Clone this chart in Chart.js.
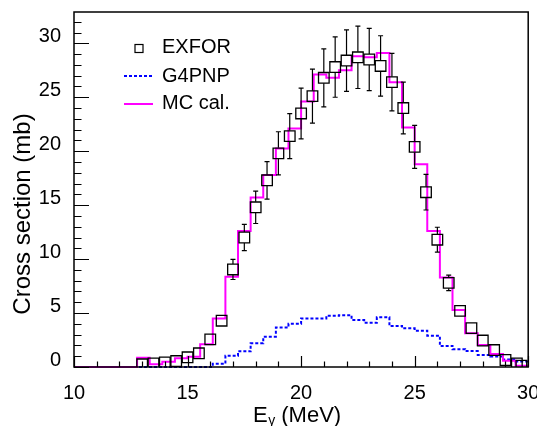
<!DOCTYPE html>
<html>
<head>
<meta charset="utf-8">
<script src="https://cdn.jsdelivr.net/npm/chart.js@4.4.0/dist/chart.umd.min.js"></script>
<style>
  html, body { margin: 0; padding: 0; background: #fff; }
</style>
</head>
<body>
<canvas id="chart" width="537" height="426"></canvas>
<script>
// histogram binning (MC cal. and G4PNP share it)
const binLow = 10;
const binHigh = 30;
const nBins = 36;

// MC cal. bin contents (mb)
const mcCal = [0, 0, 0, 0, 0, 0.86, 0.25, 0.49, 0.8, 0.95,
  2.1, 4.5, 8.36, 12.6, 15.7, 17.8, 20.25, 22.1, 24.6, 27.1,
  26.8, 27.5, 28.8, 28.7, 29.1, 26.4, 22.2, 18.8, 12.6, 8.3,
  5.28, 3.12, 2.04, 1.2, 0.58, 0.12];

// G4PNP bin contents (mb)
const g4pnp = [0, 0, 0, 0, 0, 0, 0, 0, 0, 0,
  0, 0.3, 1.05, 1.45, 2.2, 2.8, 3.65, 4.0, 4.5, 4.5,
  4.75, 4.8, 4.35, 4.1, 4.6, 3.8, 3.58, 3.36, 2.9, 1.95,
  1.65, 1.48, 1.12, 0.98, 0.7, 0.52];

// EXFOR points
const exforE = [13.0, 13.5, 14.0, 14.5, 15.0, 15.5, 16.0, 16.5, 17.0, 17.5,
  18.0, 18.5, 19.0, 19.5, 20.0, 20.5, 21.0, 21.5, 22.0, 22.5,
  23.0, 23.5, 24.0, 24.5, 25.0, 25.5, 26.0, 26.5, 27.0, 27.5,
  28.0, 28.5, 29.0, 29.5, 29.7];
const exforXs = [0.25, 0.34, 0.43, 0.55, 0.9, 1.27, 2.56, 4.29, 9.04, 12.0,
  14.8, 17.3, 19.8, 21.4, 23.5, 25.1, 26.8, 27.8, 28.4, 28.7,
  28.5, 27.9, 26.4, 24.0, 20.4, 16.2, 11.8, 7.8, 5.2, 3.6,
  2.45, 1.57, 0.65, 0.34, 0.12];
const exforErr = [0.03, 0.04, 0.05, 0.06, 0.1, 0.13, 0.25, 0.42, 0.93, 1.22,
  1.5, 1.74, 2.0, 2.08, 2.35, 2.5, 2.69, 2.8, 2.85, 2.89,
  2.89, 2.8, 2.66, 2.4, 2.0, 1.65, 1.15, 0.72, 0.5, 0.35,
  0.25, 0.15, 0.07, 0.04, 0.02];

const xTicks = [10, 15, 20, 25, 30];
const yTicks = [0, 5, 10, 15, 20, 25, 30];
const yMax = 32.9;

const FONT = '"Liberation Sans", Arial, Helvetica, sans-serif';

// step histogram -> points on the bin edges
function histPoints(values) {
  const w = (binHigh - binLow) / nBins;
  const pts = [];
  for (let i = 0; i <= nBins; i++) {
    pts.push({ x: binLow + i * w, y: values[Math.min(i, nBins - 1)] });
  }
  return pts;
}

// error bars drawn outside the open square, with small caps
const errorBars = {
  id: 'errorBars',
  afterDatasetsDraw(chart) {
    const { ctx, scales: { x, y } } = chart;
    const half = 5.5, cap = 2.5;
    ctx.save();
    ctx.strokeStyle = '#000';
    ctx.lineWidth = 1.2;
    exforE.forEach((e, i) => {
      const px = x.getPixelForValue(e);
      const py = y.getPixelForValue(exforXs[i]);
      const hi = y.getPixelForValue(exforXs[i] + exforErr[i]);
      const lo = y.getPixelForValue(exforXs[i] - exforErr[i]);
      ctx.beginPath();
      if (py - hi > half) {
        ctx.moveTo(px, py - half); ctx.lineTo(px, hi);
        ctx.moveTo(px - cap, hi); ctx.lineTo(px + cap, hi);
      }
      if (lo - py > half) {
        ctx.moveTo(px, py + half); ctx.lineTo(px, lo);
        ctx.moveTo(px - cap, lo); ctx.lineTo(px + cap, lo);
      }
      ctx.stroke();
    });
    ctx.restore();
  }
};

// ROOT-like frame, inner ticks, axis titles and legend
const frame = {
  id: 'frame',
  afterDraw(chart) {
    const { ctx, chartArea: a, scales: { x, y } } = chart;
    ctx.save();
    ctx.strokeStyle = '#000';
    ctx.lineWidth = 1.5;
    ctx.strokeRect(a.left, a.top, a.right - a.left, a.bottom - a.top);

    ctx.lineWidth = 1.2;
    ctx.beginPath();
    for (let v = 0; v <= Math.floor(yMax); v++) {
      const py = Math.round(y.getPixelForValue(v)) + 0.5;
      const len = v % 5 === 0 ? 15 : 7.5;
      ctx.moveTo(a.left, py); ctx.lineTo(a.left + len, py);
    }
    for (let v = binLow; v <= binHigh; v++) {
      const px = Math.round(x.getPixelForValue(v)) + 0.5;
      const len = v % 5 === 0 ? 11 : 5.5;
      ctx.moveTo(px, a.bottom); ctx.lineTo(px, a.bottom - len);
    }
    ctx.stroke();

    // axis titles
    ctx.fillStyle = '#000';
    ctx.textBaseline = 'alphabetic';
    ctx.textAlign = 'left';
    ctx.font = '22px ' + FONT;
    let tx = 253;
    ctx.fillText('E', tx, 422);
    tx += ctx.measureText('E').width + 0.5;
    ctx.font = '14px ' + FONT;
    ctx.fillText('γ', tx, 425);
    tx += ctx.measureText('γ').width;
    ctx.font = '22px ' + FONT;
    ctx.fillText(' (MeV)', tx, 422);

    ctx.save();
    ctx.translate(23, 214);
    ctx.rotate(-Math.PI / 2);
    ctx.font = '24px ' + FONT;
    ctx.textAlign = 'center';
    ctx.textBaseline = 'middle';
    ctx.fillText('Cross section (mb)', 0, 0);
    ctx.restore();

    // legend
    ctx.font = '20px ' + FONT;
    ctx.textBaseline = 'middle';
    ctx.textAlign = 'left';
    ctx.lineWidth = 1.2;
    ctx.strokeStyle = '#000';
    ctx.strokeRect(135, 44.5, 8, 8);
    ctx.fillText('EXFOR', 162, 47);

    ctx.strokeStyle = '#0000ff';
    ctx.lineWidth = 2;
    ctx.setLineDash([3, 2]);
    ctx.beginPath(); ctx.moveTo(124, 76); ctx.lineTo(153, 76); ctx.stroke();
    ctx.setLineDash([]);
    ctx.fillText('G4PNP', 162, 76);

    ctx.strokeStyle = '#ff00ff';
    ctx.beginPath(); ctx.moveTo(124, 104); ctx.lineTo(153, 104); ctx.stroke();
    ctx.fillText('MC cal.', 162, 103);
    ctx.restore();
  }
};

new Chart(document.getElementById('chart'), {
  type: 'scatter',
  data: {
    datasets: [
      {
        label: 'EXFOR',
        data: exforE.map((e, i) => ({ x: e, y: exforXs[i] })),
        pointStyle: 'rect',
        pointRadius: 7.5,
        pointBorderColor: '#000',
        pointBackgroundColor: 'rgba(0,0,0,0)',
        pointBorderWidth: 1.3,
        showLine: false,
        order: 0
      },
      {
        label: 'MC cal.',
        data: histPoints(mcCal),
        showLine: true,
        stepped: true,
        borderColor: '#ff00ff',
        borderWidth: 2,
        pointRadius: 0,
        clip: 4,
        order: 1
      },
      {
        label: 'G4PNP',
        data: histPoints(g4pnp),
        showLine: true,
        stepped: true,
        borderColor: '#0000ff',
        borderWidth: 2,
        borderDash: [3, 2],
        pointRadius: 0,
        clip: 4,
        order: 2
      }
    ]
  },
  options: {
    responsive: false,
    animation: false,
    layout: { padding: { top: 12, right: 7, left: 0, bottom: 0 } },
    plugins: { legend: { display: false }, tooltip: { enabled: false } },
    scales: {
      x: {
        type: 'linear',
        min: binLow,
        max: binHigh,
        grid: { display: false },
        border: { display: false },
        afterBuildTicks: s => { s.ticks = xTicks.map(v => ({ value: v })); },
        afterFit: s => { s.height = 59; s.paddingLeft = 0; s.paddingRight = 0; },
        ticks: { color: '#000', padding: 6, font: { family: FONT, size: 20 } }
      },
      y: {
        type: 'linear',
        min: 0,
        max: yMax,
        grid: { display: false },
        border: { display: false },
        afterBuildTicks: s => { s.ticks = yTicks.map(v => ({ value: v })); },
        afterFit: s => { s.width = 74; s.paddingTop = 0; s.paddingBottom = 0; },
        ticks: { color: '#000', padding: 5, labelOffset: -7, font: { family: FONT, size: 20 } }
      }
    }
  },
  plugins: [errorBars, frame]
});
</script>
</body>
</html>
